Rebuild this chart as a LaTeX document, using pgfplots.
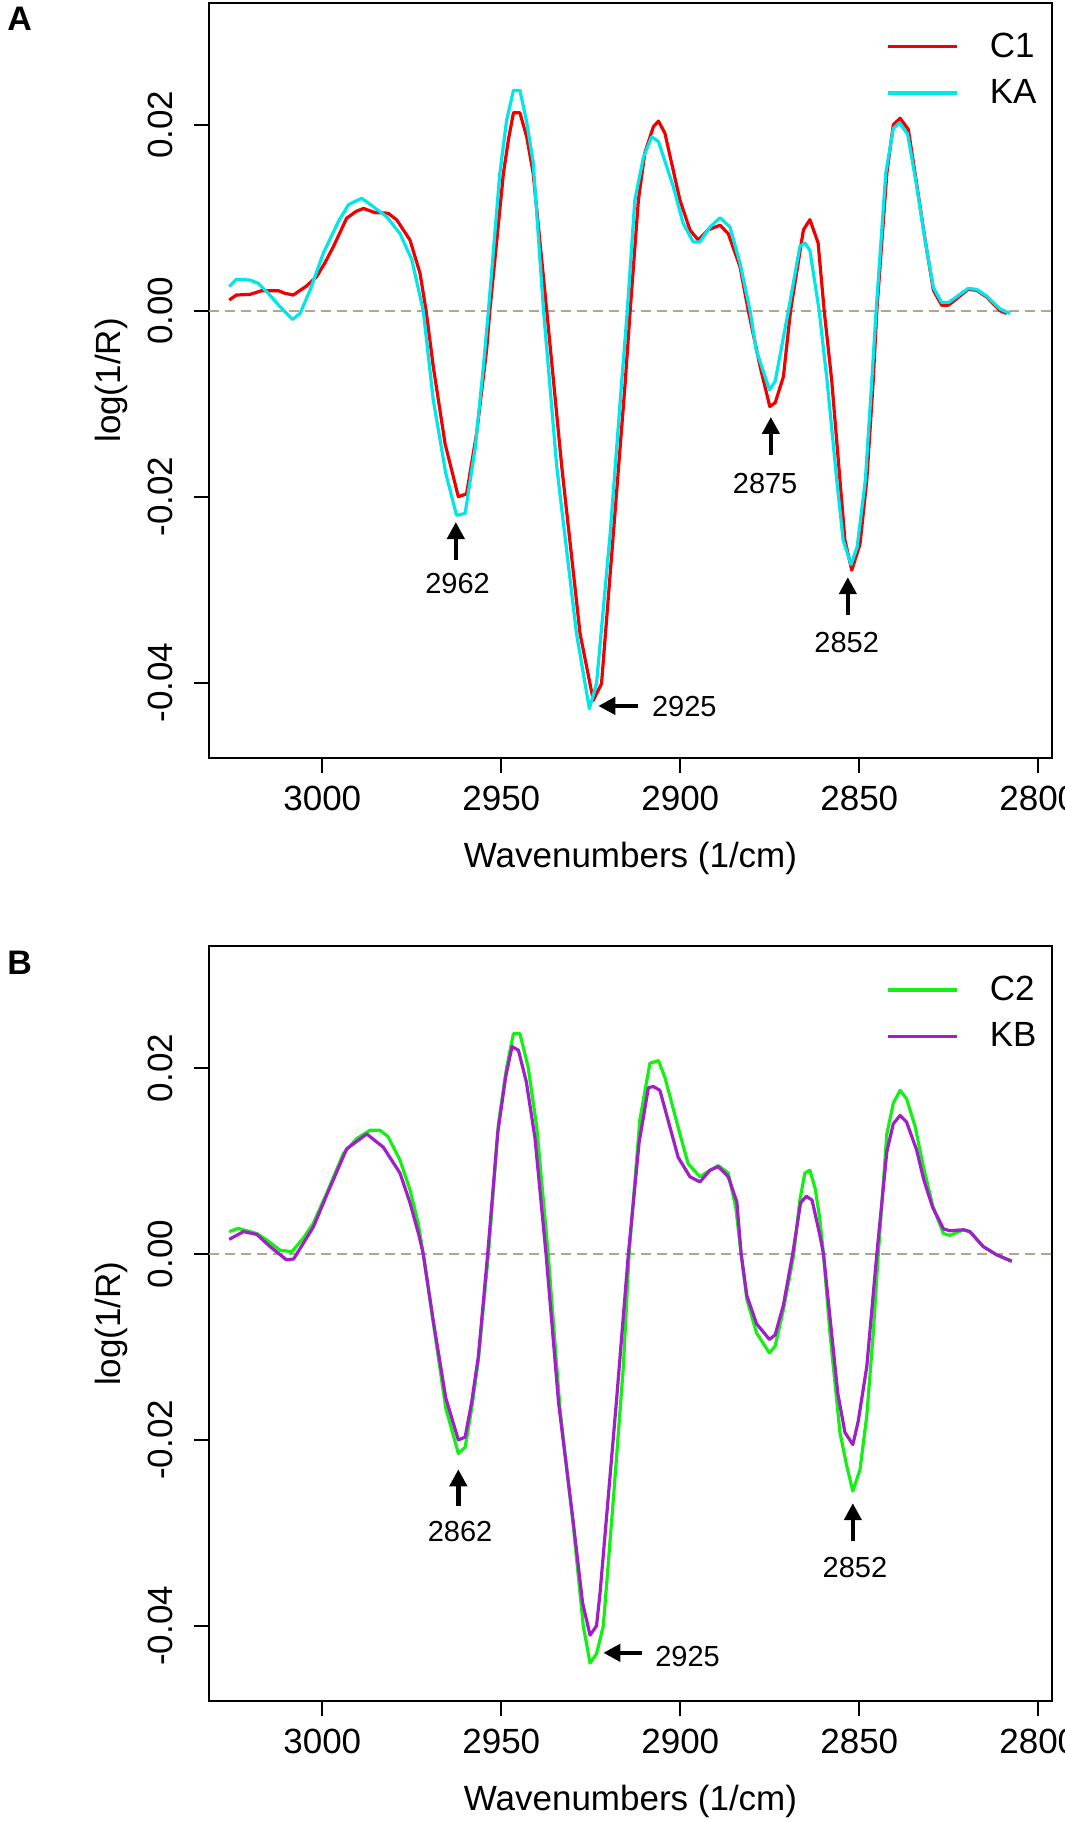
\documentclass[border=0pt]{standalone}
\usepackage{fontspec}
\setmainfont{Liberation Sans}
\usepackage{pgfplots}
\pgfplotsset{compat=1.18}
\usetikzlibrary{arrows.meta}
\definecolor{cR}{RGB}{240,0,0}
\definecolor{cK}{RGB}{0,230,235}
\definecolor{cG}{RGB}{20,240,20}
\definecolor{cP}{RGB}{160,32,200}
\definecolor{zl}{RGB}{175,165,145}
\newcommand{\myTickFont}{\fontsize{17.5}{21}\selectfont}
\newcommand{\myAnnFont}{\fontsize{14.5}{17}\selectfont}
\pgfplotsset{
 myaxis/.style={
  scale only axis, width=421.5pt, height=377.5pt,
  x dir=reverse, xmin=2796.17, xmax=3031.65, ymin=-0.0481, ymax=0.0331,
  scaled x ticks=false, scaled y ticks=false,
  axis line style={line width=1pt},
  tick style={line width=1pt, black},
  tick align=outside, major tick length=7.5pt, tick pos=left,
  xtick={2800,2850,2900,2950,3000}, xticklabels={2800,2850,2900,2950,3000},
  ytick={-0.04,-0.02,0,0.02}, yticklabels={-0.04,-0.02,0.00,0.02},
  tick label style={font=\myTickFont, inner sep=0pt},
  xticklabel style={yshift=-6.15pt, anchor=north},
  yticklabel style={xshift=-10.35pt, rotate=90, anchor=south},
  label style={font=\myTickFont},
  xlabel={Wavenumbers (1/cm)}, ylabel={log(1/R)},
  xlabel style={at={(axis description cs:0.5,-0.1449)}, anchor=base, inner sep=0pt},
  ylabel style={at={(axis description cs:-0.105,0.5)}, anchor=base, inner sep=0pt},
  legend style={draw=none, fill=none, at={(axis description cs:0.8039,0.9602)}, anchor=north west,
    inner sep=0pt, outer sep=0pt, font=\myTickFont, row sep=9.5pt, nodes={inner sep=0pt},
    /tikz/every odd column/.append style={column sep=15.8pt}},
  legend cell align=left,
  legend image code/.code={\draw[##1] (0pt,0pt) -- (34.2pt,0pt);},
  every axis plot/.append style={line width=1.6pt, line join=round},
 }
}
\begin{document}
\begin{tikzpicture}
% ---------------- Panel A ----------------
\begin{axis}[myaxis, at={(104.5pt,532pt)}, anchor=south west]
\draw[zl, line width=0.8pt, dash pattern=on 5pt off 3pt] (axis cs:3031.65,0) -- (axis cs:2796.17,0);
\addplot[cR] coordinates {(3026.0,0.00115) (3024.0,0.00169) (3020.2,0.00176) (3016.9,0.00216) (3012.3,0.00216) (3010.4,0.00187) (3008.1,0.00169) (3004.4,0.00266) (3001.6,0.00366) (2999.2,0.0052) (2996.9,0.0069) (2993.2,0.00995) (2990.5,0.0107) (2988.5,0.0110) (2985.3,0.01056) (2981.6,0.01049) (2979.2,0.00977) (2975.5,0.0076) (2972.7,0.00403) (2971.0,0.0) (2969.0,-0.0060) (2965.7,-0.0143) (2962.0,-0.0200) (2959.7,-0.0197) (2956.9,-0.0132) (2954.1,-0.0042) (2953.2,0.0) (2949.4,0.0148) (2948.0,0.0184) (2946.6,0.0213) (2944.8,0.0213) (2942.9,0.0187) (2941.1,0.0148) (2937.3,0.0) (2933.1,-0.0168) (2928.0,-0.0347) (2924.3,-0.0419) (2922.0,-0.0401) (2918.7,-0.0240) (2915.4,-0.0078) (2914.0,0.0) (2911.7,0.0119) (2909.9,0.0170) (2907.5,0.0198) (2906.1,0.0204) (2904.3,0.0191) (2902.2,0.0155) (2900.1,0.0119) (2897.3,0.0087) (2895.0,0.0076) (2892.2,0.0087) (2888.9,0.0092) (2886.6,0.0083) (2883.3,0.0047) (2881.0,0.0) (2877.7,-0.0060) (2875.0,-0.0103) (2873.5,-0.0099) (2871.2,-0.0071) (2869.2,0.0) (2865.6,0.0087) (2863.8,0.0098) (2861.5,0.0073) (2859.8,0.0) (2857.7,-0.0075) (2855.4,-0.0182) (2854.0,-0.0247) (2852.1,-0.0279) (2849.8,-0.0251) (2847.9,-0.0182) (2846.1,-0.0075) (2845.1,0.0) (2842.3,0.0148) (2840.5,0.0200) (2838.6,0.0207) (2836.3,0.0195) (2834.0,0.0137) (2831.6,0.0076) (2829.3,0.0022) (2827.0,0.0006) (2825.1,0.0006) (2822.8,0.0013) (2819.6,0.0023) (2817.2,0.0022) (2814.5,0.0015) (2810.7,0.0) (2808.8,-0.0003)};
\addlegendentry{C1}
\addplot[cK] coordinates {(3026.0,0.00259) (3024.0,0.00338) (3020.2,0.0033) (3017.9,0.00295) (3015.1,0.00187) (3011.8,0.00043) (3008.3,-0.00093) (3006.2,-0.00028) (3003.4,0.00223) (2999.7,0.0062) (2995.5,0.0096) (2992.7,0.0114) (2989.0,0.0121) (2985.8,0.0112) (2982.0,0.0101) (2978.3,0.0083) (2975.0,0.0055) (2971.8,0.0) (2969.0,-0.0096) (2965.5,-0.0175) (2962.5,-0.0220) (2960.1,-0.0218) (2957.3,-0.0148) (2955.0,-0.0060) (2953.6,0.0) (2950.4,0.0148) (2948.5,0.0205) (2946.6,0.0237) (2944.8,0.0237) (2943.0,0.0205) (2941.1,0.0160) (2938.2,0.0) (2934.5,-0.0168) (2929.0,-0.0347) (2925.4,-0.0428) (2923.4,-0.0401) (2919.6,-0.0240) (2916.4,-0.0078) (2914.8,0.0) (2912.7,0.0119) (2910.3,0.0165) (2908.0,0.0187) (2906.1,0.0182) (2902.0,0.0134) (2899.2,0.0094) (2896.4,0.0074) (2894.5,0.0074) (2891.7,0.0090) (2888.9,0.0100) (2886.1,0.0090) (2883.3,0.0051) (2880.5,0.0) (2878.8,-0.0042) (2875.1,-0.0085) (2873.5,-0.0076) (2869.8,0.0) (2866.6,0.0069) (2865.2,0.0073) (2863.8,0.0065) (2861.2,0.0) (2859.0,-0.0075) (2856.3,-0.0182) (2854.5,-0.0247) (2852.3,-0.0273) (2850.6,-0.0254) (2848.3,-0.0182) (2846.5,-0.0075) (2845.3,0.0) (2842.6,0.0148) (2840.5,0.0196) (2838.8,0.0202) (2836.5,0.0190) (2834.0,0.0135) (2831.6,0.0075) (2829.3,0.0025) (2827.0,0.0009) (2825.0,0.0009) (2822.8,0.0015) (2819.6,0.0024) (2817.2,0.0023) (2814.5,0.0016) (2810.7,0.0002) (2807.9,-0.0003)};
\addlegendentry{KA}
\draw[line width=2.2pt, -{Triangle[length=8.5pt,width=8.5pt]}] (axis cs:2962.7,-0.02685) -- (axis cs:2962.7,-0.02272);
\node[font=\myAnnFont, inner sep=0pt] at (axis cs:2962.2,-0.02936) {2962};
\draw[line width=2.2pt, -{Triangle[length=8.5pt,width=8.5pt]}] (axis cs:2911.7,-0.0425) -- (axis cs:2922.9,-0.0425);
\node[font=\myAnnFont, inner sep=0pt, anchor=west] at (axis cs:2908.0,-0.0426) {2925};
\draw[line width=2.2pt, -{Triangle[length=8.5pt,width=8.5pt]}] (axis cs:2874.7,-0.01554) -- (axis cs:2874.7,-0.01142);
\node[font=\myAnnFont, inner sep=0pt] at (axis cs:2876.3,-0.01859) {2875};
\draw[line width=2.2pt, -{Triangle[length=8.5pt,width=8.5pt]}] (axis cs:2853.2,-0.03277) -- (axis cs:2853.2,-0.02865);
\node[font=\myAnnFont, inner sep=0pt] at (axis cs:2853.5,-0.03565) {2852};
\end{axis}
% ---------------- Panel B ----------------
\begin{axis}[myaxis, at={(104.5pt,60.4pt)}, anchor=south west]
\draw[zl, line width=0.8pt, dash pattern=on 5pt off 3pt] (axis cs:3031.65,0) -- (axis cs:2796.17,0);
\addplot[cG] coordinates {(3026.0,0.0024) (3023.5,0.00275) (3018.3,0.0022) (3015.5,0.0015) (3011.8,0.0004) (3008.5,0.00025) (3005.3,0.0017) (3002.5,0.0033) (2998.8,0.0065) (2994.1,0.0108) (2990.4,0.0124) (2986.7,0.0133) (2983.9,0.0133) (2981.6,0.0126) (2978.3,0.0101) (2975.5,0.0069) (2973.2,0.0033) (2971.8,0.0) (2969.0,-0.0074) (2965.5,-0.0166) (2962.0,-0.02145) (2960.1,-0.0208) (2958.3,-0.0167) (2956.4,-0.0114) (2953.6,0.0) (2950.8,0.0140) (2948.5,0.0201) (2946.6,0.0237) (2944.8,0.0237) (2942.5,0.0201) (2940.1,0.01365) (2936.9,0.0) (2933.6,-0.0167) (2929.9,-0.0292) (2927.1,-0.0400) (2925.2,-0.0440) (2923.4,-0.0430) (2921.5,-0.0400) (2918.7,-0.0264) (2915.9,-0.0121) (2914.3,0.0) (2911.3,0.0144) (2908.5,0.0205) (2906.1,0.0208) (2904.3,0.0190) (2900.1,0.0129) (2897.8,0.0097) (2894.5,0.0083) (2891.7,0.0090) (2889.4,0.0095) (2886.6,0.0087) (2884.5,0.0050) (2883.0,0.0) (2881.4,-0.0049) (2878.7,-0.0085) (2875.1,-0.01065) (2873.5,-0.0099) (2871.2,-0.0060) (2868.4,-0.0003) (2866.6,0.0058) (2865.2,0.0087) (2863.8,0.0090) (2862.3,0.0070) (2861.0,0.0037) (2860.0,0.0) (2858.2,-0.0085) (2855.4,-0.0192) (2853.5,-0.0228) (2851.8,-0.0255) (2849.8,-0.0232) (2847.9,-0.0174) (2846.1,-0.0085) (2844.7,0.0) (2842.3,0.0129) (2840.5,0.0162) (2838.6,0.0176) (2836.8,0.0167) (2834.4,0.0137) (2832.1,0.0094) (2829.5,0.0052) (2826.5,0.0022) (2824.7,0.0020) (2822.8,0.0023) (2820.9,0.0026) (2819.1,0.0024) (2815.4,0.0008) (2811.6,-0.0001) (2807.4,-0.00075)};
\addlegendentry{C2}
\addplot[cP] coordinates {(3026.0,0.00157) (3022.0,0.0024) (3018.3,0.0021) (3014.6,0.0008) (3010.0,-0.00064) (3008.0,-0.00054) (3005.3,0.00115) (3002.5,0.0029) (2998.8,0.0063) (2993.2,0.0113) (2987.6,0.0129) (2983.0,0.0115) (2978.3,0.0087) (2975.5,0.0055) (2973.0,0.0020) (2971.8,0.0) (2969.0,-0.0072) (2965.5,-0.0155) (2962.0,-0.0200) (2960.1,-0.0197) (2958.3,-0.0160) (2956.4,-0.0110) (2953.8,0.0) (2951.0,0.0130) (2948.8,0.0190) (2947.0,0.0223) (2945.2,0.0219) (2943.0,0.0185) (2940.6,0.0125) (2937.5,0.0) (2934.0,-0.0160) (2930.0,-0.0285) (2927.3,-0.0375) (2925.2,-0.0410) (2923.4,-0.0400) (2922.4,-0.0364) (2917.8,-0.0157) (2914.5,0.0) (2911.5,0.0120) (2908.9,0.0179) (2907.5,0.0180) (2905.7,0.0176) (2900.6,0.0104) (2897.3,0.0083) (2894.5,0.00775) (2891.7,0.0090) (2889.4,0.0094) (2886.6,0.0083) (2884.2,0.0056) (2883.0,0.0) (2881.4,-0.0045) (2878.7,-0.0075) (2875.1,-0.0092) (2873.5,-0.0087) (2871.2,-0.0055) (2868.6,0.0) (2866.4,0.0055) (2864.8,0.0062) (2863.2,0.0058) (2861.0,0.0020) (2860.0,0.0) (2858.0,-0.0075) (2856.0,-0.0150) (2854.0,-0.0192) (2851.8,-0.0205) (2850.3,-0.0180) (2847.9,-0.0121) (2845.1,0.0) (2842.3,0.0110) (2840.5,0.0140) (2838.6,0.0149) (2836.8,0.0142) (2834.0,0.0112) (2832.0,0.0080) (2829.5,0.0050) (2826.5,0.0027) (2824.7,0.0025) (2820.9,0.0026) (2819.1,0.0024) (2815.4,0.0008) (2811.6,-0.0001) (2807.4,-0.0008)};
\addlegendentry{KB}
\draw[line width=2.2pt, -{Triangle[length=8.5pt,width=8.5pt]}] (axis cs:2962.0,-0.0271) -- (axis cs:2962.0,-0.02316);
\node[font=\myAnnFont, inner sep=0pt] at (axis cs:2961.5,-0.02989) {2862};
\draw[line width=2.2pt, -{Triangle[length=8.5pt,width=8.5pt]}] (axis cs:2910.8,-0.0429) -- (axis cs:2921.5,-0.0429);
\node[font=\myAnnFont, inner sep=0pt, anchor=west] at (axis cs:2907.1,-0.0433) {2925};
\draw[line width=2.2pt, -{Triangle[length=8.5pt,width=8.5pt]}] (axis cs:2851.8,-0.03085) -- (axis cs:2851.8,-0.0268);
\node[font=\myAnnFont, inner sep=0pt] at (axis cs:2851.2,-0.0337) {2852};
\end{axis}
\node[anchor=base west, inner sep=0pt, font=\fontsize{17}{20}\selectfont\bfseries] at (3.5pt,895.5pt) {A};
\node[anchor=base west, inner sep=0pt, font=\fontsize{17}{20}\selectfont\bfseries] at (3.5pt,423.5pt) {B};
\pgfresetboundingbox
\path[use as bounding box] (0,0) rectangle (532.5pt,911pt);
\end{tikzpicture}
\end{document}
